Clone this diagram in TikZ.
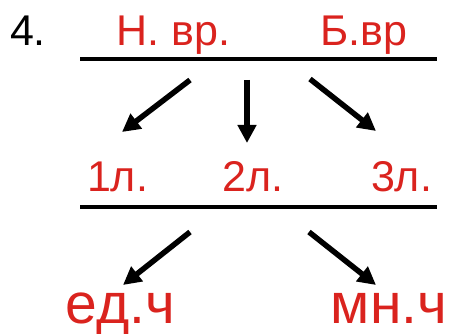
\documentclass[tikz,border=0pt]{standalone}
\usepackage{fontspec}
\setmainfont{Liberation Sans}
\usetikzlibrary{arrows.meta,positioning}
\definecolor{schred}{RGB}{218,35,30}
\tikzset{
  lbl/.style={font=\fontsize{43}{50}\selectfont,text=schred,
              anchor=base,inner sep=0pt},
  lblbig/.style={lbl,font=\fontsize{57}{64}\selectfont},
  bar/.style={line width=3.5pt},
  arr/.style={-{Triangle[length=18pt,width=18pt]},line width=5.5pt},
}
\begin{document}
\begin{tikzpicture}[x=1pt,y=-1pt]
  \useasboundingbox (0,0) rectangle (450,334);
  % first row
  \node[lbl,text=black](num) at (28,46){4.};
  \node[lbl](nvr) at (173.5,46){Н. вр.};
  \node[lbl](bvr) at (364,46){Б.вр};
  \coordinate (b1l) at (80,59);
  \coordinate (b1r) at (437,59);
  \draw[bar](b1l)--(b1r);
  % second row
  \node[lbl](l1) at (117.5,192){1л.};
  \node[lbl](l2) at (253,192){2л.};
  \node[lbl](l3) at (401.5,192){3л.};
  \coordinate (b2l) at (80,207);
  \coordinate (b2r) at (437,207);
  \draw[bar](b2l)--(b2r);
  % third row
  \node[lblbig](ed) at (120.5,323){ед.ч};
  \node[lblbig](mn) at (389,323){мн.ч};

  % Arrows
  \coordinate (a1s) at (190,80);  \coordinate (a1e) at (122,132);
  \coordinate (a2s) at (247,80);  \coordinate (a2e) at (247,143);
  \coordinate (a3s) at (310,79);  \coordinate (a3e) at (376,131);
  \coordinate (a4s) at (190,232); \coordinate (a4e) at (123,285);
  \coordinate (a5s) at (309,232); \coordinate (a5e) at (376,285);
  \draw[arr](a1s)--(a1e);
  \draw[arr](a2s)--(a2e);
  \draw[arr](a3s)--(a3e);
  \draw[arr](a4s)--(a4e);
  \draw[arr](a5s)--(a5e);
\end{tikzpicture}
\end{document}
